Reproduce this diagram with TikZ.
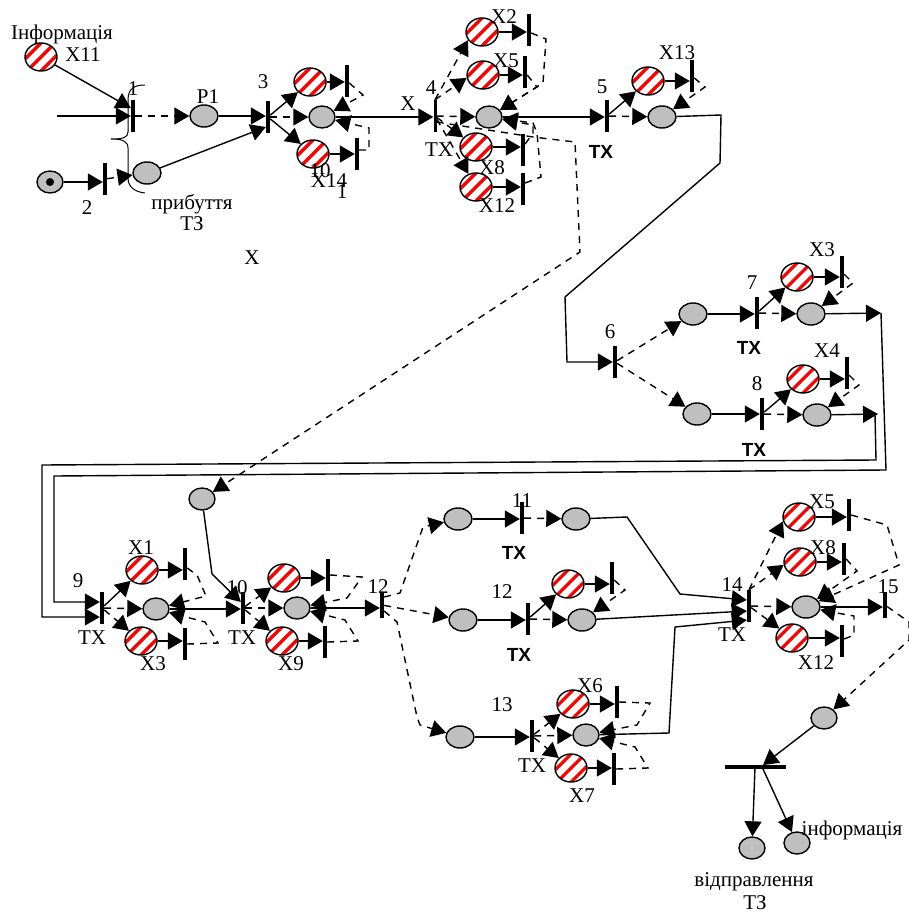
\documentclass[tikz,border=0pt]{standalone}
\usepackage{fontspec}
\setmainfont{Liberation Serif}
\setsansfont{Liberation Sans}
\usetikzlibrary{arrows.meta,shapes.geometric}
\definecolor{placegray}{HTML}{BFBFBF}
\tikzset{
  place/.style={ellipse,draw,line width=1.4pt,fill=placegray,minimum width=28pt,minimum height=22pt,inner sep=0pt},
  hot/.style={ellipse,draw,line width=1.4pt,fill=white,minimum width=32pt,minimum height=28pt,inner sep=0pt,
    path picture={\foreach \d in {-14,0,14} \draw[red,line width=3.2pt] ([xshift=\d pt]path picture bounding box.center) ++(-20,20) -- ++(40,-40);}},
  trans/.style={rectangle,fill=black,minimum width=4pt,minimum height=32pt,inner sep=0pt},
  arr/.style={-{Triangle[length=15pt,width=17pt]},line width=1.4pt},
  darr/.style={arr,dash pattern=on 7pt off 6pt},
  boldtx/.style={font=\fontsize{19}{22}\selectfont\sffamily\bfseries}
}
\begin{document}
\begin{tikzpicture}[x=1pt,y=-1pt, every node/.style={font=\fontsize{21}{23}\selectfont}]
  \useasboundingbox (0,0) rectangle (909,913);

  \draw[line width=1pt] (145,85) .. controls (135,85) and (128,88) .. (128,100) -- (128,132) .. controls (128,138) and (122,139) .. (111,139) .. controls (122,139) and (128,141) .. (128,148) -- (128,178) .. controls (128,187) and (135,192) .. (145,193);

  \node[hot] (x11) at (41,57) {}; \node (lblinfo) at (62,34) {Інформація}; \node (lblx11) at (83,55) {X11};
  \coordinate (in1) at (57,116);
  \node[trans] (t1) at (133,116) {}; \node (lbl1) at (133,89) {1};
  \node[place] (p1) at (204,116) {}; \node (lblp1) at (208,97) {P1};
  \node[place,minimum width=26pt] (start) at (50,182) {}; \node[circle,fill=black,minimum size=8pt,inner sep=0pt] (token) at (50,182) {};
  \node[trans] (t2) at (105,179) {}; \node (lbl2) at (87,208) {2};
  \node[place] (p2) at (147,173) {};
  \node (lblarr) at (192,204) {прибуття}; \node (lblarr2) at (192,224) {ТЗ};
  \node (lblx) at (252,258) {X};
  \draw[arr] (x11) -- ([yshift=8pt]t1.west);
  \draw[arr] (in1) -- (t1);
  \draw[darr] (t1) -- (p1);
  \draw[arr] (start) -- (start -| t2.west);
  \draw[darr] (t2) -- (p2);

  \node[trans] (t3) at (268,117) {}; \node (lbl3) at (263,82) {3};
  \node[place,minimum width=26pt] (q3) at (322,117) {};
  \node[hot] (x3a) at (310,82) {}; \node[trans] (t3a) at (347,81) {};
  \node[hot] (x14) at (313,154) {}; \node[trans] (t14a) at (357,154) {};
  \node (lbl10) at (320,171) {10}; \node (lblx14) at (329,181) {X14}; \node (lbl1b) at (342,192) {1};
  \draw[arr] (p1) -- (p1 -| t3.west);
  \draw[arr] (p2) -- ([yshift=-10pt]t3.west);
  \draw[arr] (t3) -- (x3a);
  \draw[darr] (t3) -- (q3);
  \draw[arr] (t3) -- (x14);
  \draw[arr] (x3a) -- (x3a -| t3a.west);
  \draw[arr] (x14) -- (x14 -| t14a.west);
  \draw[darr] (t3a) -- (363,95) -- (q3);
  \draw[darr] ([yshift=4pt]t14a.east) -- (369,150) -- (369,128) -- (q3);

  \node[trans,minimum width=3pt] (t4) at (435,116) {}; \node (lbl4) at (431,88) {4};
  \node (lblx4) at (408,104) {X}; \node (lbltx4) at (439,150) {TX};
  \node[place,minimum width=26pt] (q4) at (489,117) {};
  \node[hot] (x2) at (482,32) {}; \node[trans] (t2a) at (529,30) {}; \node (lblx2) at (504,17) {X2};
  \node[hot] (x5) at (483,75) {}; \node[trans] (t5a) at (525,72) {}; \node (lblx5) at (506,61) {X5};
  \node[hot] (x8) at (476,147) {}; \node[trans] (t8a) at (523,150) {}; \node (lblx8) at (492,168) {X8};
  \node[hot] (x12) at (476,187) {}; \node[trans] (t12a) at (523,189) {}; \node (lblx12) at (497,206) {X12};
  \draw[arr] (q3) -- (q3 -| t4.west);
  \draw[darr] (t4.north) -- (x2.210);
  \draw[darr] (t4.north) -- (x5.190);
  \draw[darr] (t4) -- (q4);
  \draw[darr] (t4) -- (x8);
  \draw[darr] (t4) -- (x12);
  \draw[arr] (x2) -- (x2 -| t2a.west);
  \draw[arr] (x5) -- (x5 -| t5a.west);
  \draw[arr] (x8) -- (x8 -| t8a.west);
  \draw[arr] (x12) -- (x12 -| t12a.west);
  \draw[darr] ([yshift=-3pt]t2a.east) -- (546,39) -- (543,83) -- (q4);
  \draw[darr] ([yshift=-3pt]t5a.east) -- (537,87) -- (q4);
  \draw[darr] ([yshift=6pt]t8a.east) -- (533,133) -- (533,125) -- (q4);
  \draw[darr] ([yshift=6pt]t12a.east) -- (541,177) -- (537,133) -- (533,123) -- (q4);

  \node[trans] (t5) at (607,116) {}; \node (lbl5) at (602,87) {5}; \node[boldtx] (lbltx5) at (601,152) {TX};
  \node[place] (q5) at (662,117) {};
  \node[hot] (x13) at (648,81) {}; \node[trans] (t13a) at (692,76) {}; \node (lblx13) at (677,53) {X13};
  \draw[arr] (q4) -- (q4 -| t5.west);
  \draw[arr] (t5) -- (x13);
  \draw[darr] (t5) -- (q5);
  \draw[arr] (x13) -- (x13 -| t13a.west);
  \draw[darr] (t13a) -- (705,87) -- (q5);

  \node[trans] (t6) at (615,362) {}; \node (lbl6) at (610,332) {6};
  \node[place] (p6a) at (693,314) {}; \node[place] (p6b) at (697,414) {};
  \draw[arr] (q5) -- (721,115) -- (720,163) -- (565,297) -- (567,362) -- (t6);
  \draw[darr] (t6) -- (p6a);
  \draw[darr] (t6) -- (p6b);

  \node[trans] (t7) at (757,313) {}; \node (lbl7) at (752,283) {7}; \node[boldtx] (lbltx7) at (749,348) {TX};
  \node[place] (q7) at (811,314) {};
  \node[hot] (x3) at (797,277) {}; \node[trans] (t3b) at (842,272) {}; \node (lblx3) at (822,250) {X3};
  \node[trans] (t8) at (762,414) {}; \node (lbl8) at (757,384) {8}; \node[boldtx] (lbltx8) at (754,450) {TX};
  \node[place] (q8) at (817,415) {};
  \node[hot] (x4) at (803,379) {}; \node[trans] (t4a) at (847,373) {}; \node (lblx4b) at (827,351) {X4};
  \coordinate (end7) at (881,313); \coordinate (end8) at (878,414);
  \draw[arr] (p6a) -- (p6a -| t7.west);
  \draw[arr] (t7) -- (x3);
  \draw[darr] (t7) -- (q7);
  \draw[arr] (x3) -- (x3 -| t3b.west);
  \draw[darr] (t3b) -- (853,283) -- (q7);
  \draw[arr] (q7) -- (end7);
  \draw[arr] (p6b) -- (p6b -| t8.west);
  \draw[arr] (t8) -- (x4);
  \draw[darr] (t8) -- (q8);
  \draw[arr] (x4) -- (x4 -| t4a.west);
  \draw[darr] (t4a) -- (859,385) -- (q8);
  \draw[arr] (q8) -- (end8);

  \node[trans] (t9) at (102,608) {}; \node (lbl9) at (78,581) {9}; \node (lbltx9) at (92,638) {TX};
  \node[place,minimum width=26pt] (q9) at (156,609) {};
  \node[hot] (x1) at (142,570) {}; \node[trans] (t1a) at (185,564) {}; \node (lblx1) at (141,548) {X1};
  \node[hot] (x3c) at (141,641) {}; \node[trans] (t3c) at (185,644) {}; \node (lblx3c) at (153,664) {X3};
  \draw[arr] (end7) -- (886,470) -- (54,476) -- (54,602) -- ([yshift=6pt]t9.west);
  \draw[arr] ([xshift=-3pt]end8) -- (876,460) -- (42,465) -- (42,617) -- ([yshift=-9pt]t9.west);
  \draw[arr] (t9) -- (x1);
  \draw[darr] (t9) -- (q9);
  \draw[darr] (t9) -- (x3c);
  \draw[arr] (x1) -- (x1 -| t1a.west);
  \draw[arr] (x3c) -- (x3c -| t3c.west);
  \draw[darr] ([yshift=-4pt]t1a.east) -- (197,575) -- (206,596) -- (q9);
  \draw[darr] (t3c.east) -- (218,643) -- (205,622) -- (q9);

  \node[place,minimum width=26pt] (p10) at (202,499) {};
  \node[trans] (t10) at (243,608) {}; \node (lbl10b) at (237,588) {10}; \node (lbltx10) at (242,638) {TX};
  \node[place,minimum width=26pt] (q10) at (297,608) {};
  \node[hot] (x10) at (284,578) {}; \node[trans] (t10a) at (328,575) {};
  \node[hot] (x9) at (282,641) {}; \node[trans] (t9a) at (325,642) {}; \node (lblx9) at (291,664) {X9};
  \draw[darr] ([yshift=-6pt]t4.east) -- (533,137) -- (575,142) -- (580,252) -- (p10);
  \draw[arr] (q9) -- (q9 -| t10.west);
  \draw[arr] (p10) -- (212,574) -- ([yshift=6pt]t10.west);
  \draw[darr] (t10) -- (x10);
  \draw[darr] (t10) -- (q10);
  \draw[darr] (t10) -- (x9);
  \draw[arr] (x10) -- (x10 -| t10a.west);
  \draw[arr] (x9) -- (x9 -| t9a.west);
  \draw[darr] (t10a.east) -- (362,577) -- (347,598) -- (q10);
  \draw[darr] (t9a.east) -- (358,641) -- (345,620) -- (q10);

  \node[trans,minimum height=26pt] (t12) at (382,605) {}; \node (lbl12) at (378,587) {12};
  \node[place] (p11) at (458,519) {}; \node[trans] (t11) at (522,518) {}; \node (lbl11) at (522,501) {11};
  \node[place] (q11) at (576,519) {}; \node[boldtx] (lbltx11) at (514,553) {TX};
  \node[place] (p12) at (463,620) {}; \node[trans] (t12b) at (528,619) {}; \node (lbl12b) at (502,592) {12};
  \node[place] (q12) at (582,620) {}; \node[boldtx] (lbltx12) at (519,655) {TX};
  \node[hot] (xc) at (568,584) {}; \node[trans] (tc) at (612,578) {};
  \draw[arr] (q10) -- (q10 -| t12.west);
  \draw[darr] ([yshift=8pt]t12.east) -- (400,593) -- (423,527) -- (p11);
  \draw[darr] (t12) -- (p12);
  \draw[arr] (p11) -- (p11 -| t11.west);
  \draw[darr] (t11) -- (q11);
  \draw[arr] (p12) -- (p12 -| t12b.west);
  \draw[arr] (t12b) -- (xc);
  \draw[darr] (t12b) -- (q12);
  \draw[arr] (xc) -- (xc -| tc.west);
  \draw[darr] (tc) -- (625,590) -- (q12);

  \node[place] (p13) at (460,737) {}; \node[trans] (t13) at (532,736) {}; \node (lbl13) at (502,705) {13}; \node (lbltx13) at (532,766) {TX};
  \node[place,minimum width=26pt] (q13) at (586,735) {};
  \node[hot] (x6) at (573,704) {}; \node[trans] (t6a) at (617,702) {}; \node (lblx6) at (590,686) {X6};
  \node[hot] (x7) at (571,768) {}; \node[trans] (t7a) at (614,769) {}; \node (lblx7) at (582,796) {X7};
  \draw[darr] ([yshift=-6pt]t12.east) -- (397,622) -- (417,717) -- (420,725) -- (p13);
  \draw[arr] (p13) -- (p13 -| t13.west);
  \draw[darr] (t13) -- (x6);
  \draw[darr] (t13) -- (q13);
  \draw[darr] (t13) -- (x7);
  \draw[arr] (x6) -- (x6 -| t6a.west);
  \draw[arr] (x7) -- (x7 -| t7a.west);
  \draw[darr] (t6a.east) -- (650,703) -- (637,725) -- (q13);
  \draw[darr] (t7a.east) -- (648,768) -- (635,747) -- (q13);

  \node[trans] (t14) at (749,606) {}; \node (lbl14) at (732,585) {14}; \node (lbltx14) at (732,635) {TX};
  \node[place] (q14) at (806,607) {};
  \node[hot] (x5b) at (799,517) {}; \node[trans] (t5b) at (849,515) {}; \node (lblx5b) at (822,502) {X5};
  \node[hot] (x8b) at (800,562) {}; \node[trans] (t8b) at (844,559) {}; \node (lblx8b) at (823,548) {X8};
  \node[hot] (x12b) at (792,638) {}; \node[trans] (t12c) at (842,641) {}; \node (lblx12b) at (816,663) {X12};
  \draw[arr] (q11) -- (627,517) -- (680,594) -- ([yshift=6pt]t14.west);
  \draw[arr] (q12) -- ([yshift=-5pt]t14.west);
  \draw[arr] (q13) -- (669,733) -- (675,627) -- ([yshift=-14pt]t14.west);
  \draw[darr] (t14.north) -- (x5b.195);
  \draw[darr] (t14.north) -- (x8b.190);
  \draw[darr] (t14) -- (q14);
  \draw[darr] (t14) -- (x12b);
  \draw[arr] (x5b) -- (x5b -| t5b.west);
  \draw[arr] (x8b) -- (x8b -| t8b.west);
  \draw[arr] (x12b) -- (x12b -| t12c.west);
  \draw[darr] (t5b.east) -- (887,525) -- (899,565) -- (q14);
  \draw[darr] (t8b.east) -- (857,571) -- (q14);
  \draw[darr] ([yshift=2pt]t12c.east) -- (854,635) -- (854,616) -- (837,613) -- (q14);

  \node[trans,minimum height=26pt] (t15) at (885,605) {}; \node (lbl15) at (888,587) {15};
  \node[place,minimum width=26pt] (p15) at (824,718) {};
  \node[trans,minimum width=61pt,minimum height=3.5pt] (tout) at (755,767) {};
  \node[place,minimum width=26pt] (pout) at (752,848) {}; \node[place,minimum width=26pt] (pinfo) at (797,843) {};
  \node (lblinfo2) at (852,830) {інформація}; \node (lblsend) at (754,882) {відправлення}; \node (lblsend2) at (755,903) {ТЗ};
  \draw[arr] (q14) -- (q14 -| t15.west);
  \draw[darr] (t15) -- (909,622) -- (909,640) -- (p15);
  \draw[arr] (p15) -- ([xshift=8pt]tout.north);
  \draw[arr] (tout) -- (pout);
  \draw[arr] ([xshift=8pt]tout.south) -- (pinfo);
\end{tikzpicture}
\end{document}
